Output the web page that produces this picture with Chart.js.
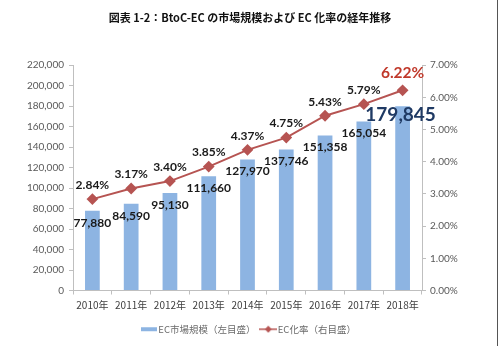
<!DOCTYPE html>
<html>
<head>
<meta charset="utf-8">
<script src="https://cdn.jsdelivr.net/npm/chart.js@4.4.0/dist/chart.umd.min.js"></script>
<style>
  html, body { margin: 0; padding: 0; background: #fff; }
  #wrap { width: 500px; height: 346px; position: relative; }
  #edge { position: absolute; left: 497px; top: 0; width: 1px; height: 346px; background: #555; }
</style>
</head>
<body>
<div id="wrap"><canvas id="myChart"></canvas><div id="edge"></div></div>
<script>
const years = ['2010年', '2011年', '2012年', '2013年', '2014年', '2015年', '2016年', '2017年', '2018年']
const marketSize = [77880, 84590, 95130, 111660, 127970, 137746, 151358, 165054, 179845]
const ecRate = [2.84, 3.17, 3.40, 3.85, 4.37, 4.75, 5.43, 5.79, 6.22]
const barLabel = 'EC市場規模（左目盛）'
const lineLabel = 'EC化率（右目盛）'

const barColor = '#8DB4E2'
const lineColor = '#B65452'

// small legend icons
function barIcon() {
    const c = document.createElement('canvas')
    c.width = 16; c.height = 6
    const ctx = c.getContext('2d')
    ctx.fillStyle = barColor
    ctx.fillRect(0, 1, 16, 4)
    return c
}
function lineIcon() {
    const c = document.createElement('canvas')
    c.width = 18; c.height = 8
    const ctx = c.getContext('2d')
    ctx.strokeStyle = lineColor
    ctx.lineWidth = 1.5
    ctx.beginPath(); ctx.moveTo(0, 4); ctx.lineTo(18, 4); ctx.stroke()
    ctx.fillStyle = lineColor
    ctx.beginPath(); ctx.moveTo(9, 0.5); ctx.lineTo(12.5, 4); ctx.lineTo(9, 7.5); ctx.lineTo(5.5, 4); ctx.closePath(); ctx.fill()
    return c
}

const valueLabels = {
    id: 'valueLabels',
    afterDatasetsDraw(chart) {
        const ctx = chart.ctx
        ctx.save()
        ctx.textAlign = 'center'
        ctx.textBaseline = 'middle'
        const bars = chart.getDatasetMeta(1).data
        bars.forEach((bar, i) => {
            const txt = marketSize[i].toLocaleString('en-US')
            if (i === bars.length - 1) {
                ctx.font = 'bold 19px Lato, "Open Sans", sans-serif'
                ctx.fillStyle = '#1F3A64'
                ctx.fillText(txt, bar.x - 2, bar.y + 9)
            } else {
                ctx.font = 'bold 12px Lato, "Open Sans", sans-serif'
                ctx.fillStyle = '#1a1a1a'
                ctx.fillText(txt, bar.x, bar.y + 12)
            }
        })
        const pts = chart.getDatasetMeta(0).data
        pts.forEach((p, i) => {
            const txt = ecRate[i].toFixed(2) + '%'
            if (i === pts.length - 1) {
                ctx.font = 'bold 15.5px Lato, "Open Sans", sans-serif'
                ctx.fillStyle = '#C0392B'
                ctx.fillText(txt, p.x, p.y - 17)
            } else {
                ctx.font = 'bold 12px Lato, "Open Sans", sans-serif'
                ctx.fillStyle = '#1a1a1a'
                ctx.fillText(txt, p.x, p.y - 14)
            }
        })
        ctx.restore()
    }
}

const tickFont = { family: 'Lato, "Open Sans", sans-serif', size: 10 }

const myChart = new Chart(
    document.getElementById('myChart'), {
        data: {
            labels: years,
            datasets: [{
                type: 'line',
                label: lineLabel,
                data: ecRate,
                yAxisID: 'y1',
                borderColor: lineColor,
                backgroundColor: lineColor,
                borderWidth: 2,
                pointStyle: 'rectRot',
                pointRadius: 4.5,
                pointHoverRadius: 4.5,
                order: 0,
            }, {
                type: 'bar',
                label: barLabel,
                data: marketSize,
                yAxisID: 'y',
                backgroundColor: barColor,
                barPercentage: 0.38,
                categoryPercentage: 1,
                order: 1,
            }]
        },
        options: {
            responsive: true,
            maintainAspectRatio: false,
            animation: false,
            layout: { padding: { left: 0, right: 0, top: 0, bottom: 2 } },
            plugins: {
                title: {
                    display: true,
                    text: '図表 1-2：BtoC-EC の市場規模および EC 化率の経年推移',
                    color: '#111',
                    font: { family: '"Noto Sans CJK JP", serif', size: 11, weight: 'bold' },
                    padding: { top: 11, bottom: 41 }
                },
                legend: {
                    position: 'bottom',
                    labels: {
                        color: '#6a6a6a',
                        font: { family: '"Noto Sans CJK JP", sans-serif', size: 9.5 },
                        usePointStyle: true,
                        padding: 8,
                        generateLabels: (chart) => [
                            { text: barLabel, pointStyle: barIcon(), fontColor: '#6a6a6a', datasetIndex: 1, lineWidth: 0, strokeStyle: 'transparent' },
                            { text: lineLabel, pointStyle: lineIcon(), fontColor: '#6a6a6a', datasetIndex: 0, lineWidth: 0, strokeStyle: 'transparent' },
                        ]
                    }
                },
                tooltip: { enabled: false }
            },
            scales: {
                x: {
                    grid: { drawOnChartArea: false, tickLength: 4, color: '#bfbfbf', offset: true },
                    border: { color: '#bfbfbf' },
                    ticks: { color: '#404040', font: { family: '"Noto Sans CJK JP", sans-serif', size: 10 }, padding: 5, maxRotation: 0 }
                },
                y: {
                    position: 'left',
                    min: 0,
                    max: 220000,
                    afterFit: (s) => { s.width = 73 },
                    grid: { drawOnChartArea: false, tickLength: 4, color: '#bfbfbf' },
                    border: { color: '#bfbfbf' },
                    ticks: {
                        stepSize: 20000,
                        color: '#595959',
                        font: tickFont,
                        padding: 5,
                        callback: (v) => v.toLocaleString('en-US')
                    }
                },
                y1: {
                    position: 'right',
                    min: 0,
                    max: 7,
                    afterFit: (s) => { s.width = 78 },
                    grid: { drawOnChartArea: false, tickLength: 4, color: '#bfbfbf' },
                    border: { color: '#bfbfbf' },
                    ticks: {
                        stepSize: 1,
                        color: '#595959',
                        font: tickFont,
                        padding: 4,
                        callback: (v) => v.toFixed(2) + '%'
                    }
                }
            }
        },
        plugins: [valueLabels]
    }
)
</script>
</body>
</html>
